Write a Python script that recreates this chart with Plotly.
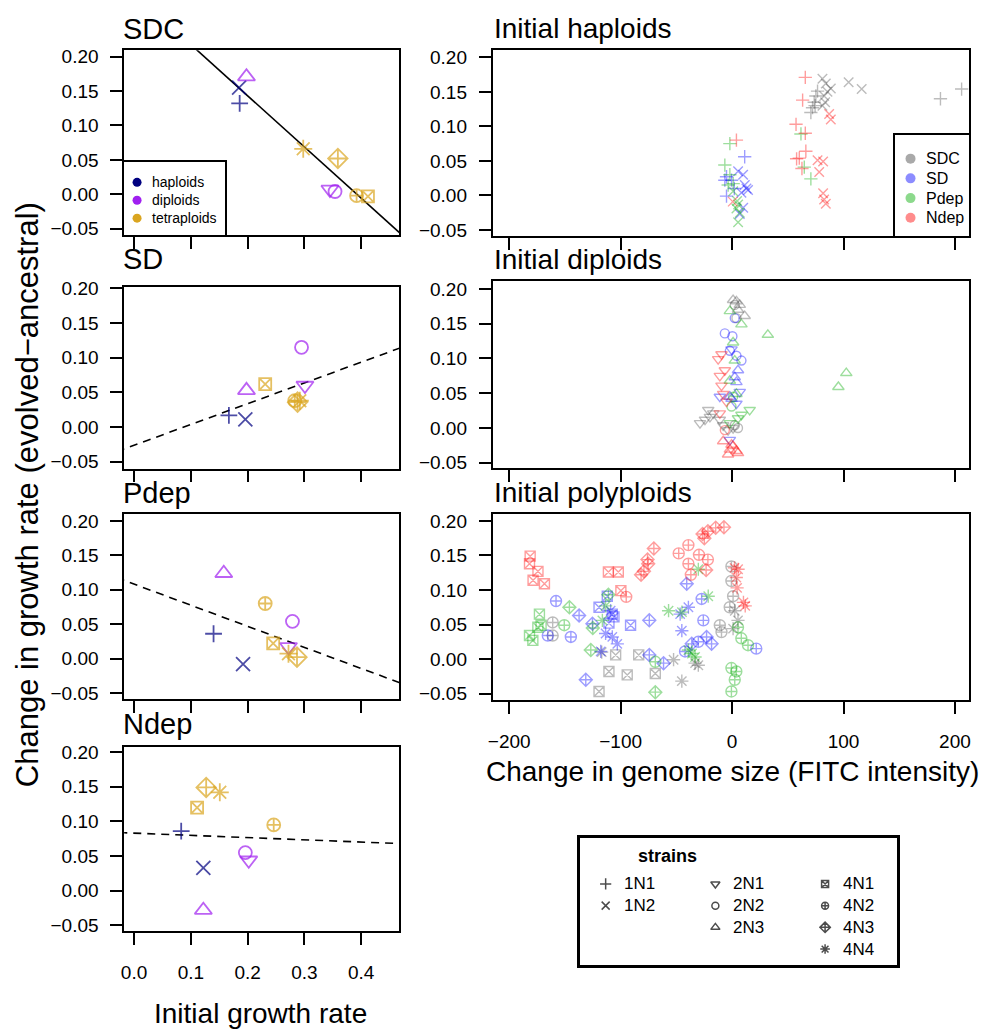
import plotly.graph_objects as go

W, H = 984, 1031
FONT = "Liberation Sans, Arial, Helvetica, sans-serif"

# ---------------------------------------------------------------- data
strains = ["1N1", "1N2", "2N1", "2N2", "2N3", "4N1", "4N2", "4N3", "4N4"]
strain_ploidy = ["haploids", "haploids", "diploids", "diploids", "diploids",
                 "tetraploids", "tetraploids", "tetraploids", "tetraploids"]
ploidy_labels = ["haploids", "diploids", "tetraploids"]
treatments = ["SDC", "SD", "Pdep", "Ndep"]

# left column: initial growth rate vs change in growth rate (order of `strains`)
init_SDC = [0.186, 0.185, 0.345, 0.354, 0.198, 0.412, 0.392, 0.359, 0.298]
chg_SDC = [0.132, 0.155, 0.007, 0.004, 0.171, -0.003, -0.002, 0.052, 0.066]
init_SD = [0.167, 0.196, 0.301, 0.295, 0.198, 0.231, 0.283, 0.288, 0.292]
chg_SD = [0.017, 0.011, 0.060, 0.115, 0.053, 0.062, 0.038, 0.036, 0.038]
init_Pdep = [0.140, 0.192, 0.272, 0.279, 0.158, 0.245, 0.231, 0.287, 0.272]
chg_Pdep = [0.036, -0.008, 0.017, 0.054, 0.124, 0.022, 0.080, 0.002, 0.007]
init_Ndep = [0.083, 0.122, 0.202, 0.196, 0.122, 0.111, 0.246, 0.127, 0.151]
chg_Ndep = [0.086, 0.033, 0.044, 0.055, -0.028, 0.120, 0.095, 0.149, 0.142]

# regression lines of each left panel (intercept, slope)
fit_intercept = [0.292, -0.0262, 0.1081, 0.0831]
fit_slope = [-0.744, 0.2995, -0.3063, -0.0322]

# right column: (strain, change in genome size, change in growth rate)
hap_SDC = [("1N2", 104.6, 0.164), ("1N2", 116.3, 0.154), ("1N2", 81.1, 0.169), ("1N2", 84.1, 0.162),
           ("1N2", 88.6, 0.155), ("1N2", 85.6, 0.150), ("1N2", 82.6, 0.144), ("1N2", 83.5, 0.135),
           ("1N2", 81.1, 0.130), ("1N1", 187.0, 0.140), ("1N1", 206.0, 0.154), ("1N1", 75.2, 0.144),
           ("1N1", 73.7, 0.135), ("1N1", 72.2, 0.127), ("1N1", 70.7, 0.120), ("1N1", 76.7, 0.151),
           ("1N1", 74.5, 0.130)]
hap_SD = [("1N1", 11.3, 0.056), ("1N1", -5.0, 0.027), ("1N1", -6.5, 0.022), ("1N1", -5.0, -0.001),
          ("1N1", -0.5, 0.022), ("1N1", 2.0, 0.010), ("1N2", 9.9, 0.030), ("1N2", 12.9, 0.010),
          ("1N2", 11.4, 0.015), ("1N2", 6.9, -0.027), ("1N2", 8.4, 0.004), ("1N2", 5.4, 0.035),
          ("1N2", 14.3, 0.008), ("1N2", 10.0, -0.018)]
hap_Pdep = [("1N1", -2.0, 0.075), ("1N1", 61.8, 0.089), ("1N1", 64.8, 0.041), ("1N1", 70.7, 0.024),
            ("1N1", -6.5, 0.044), ("1N1", -2.0, 0.030), ("1N1", -3.5, 0.015), ("1N1", 1.0, 0.017),
            ("1N2", 5.4, -0.013), ("1N2", 6.9, -0.025), ("1N2", 5.4, -0.039), ("1N2", 3.9, -0.019),
            ("1N2", 1.0, 0.006), ("1N2", 4.5, -0.008)]
hap_Ndep = [("1N1", 65.7, 0.171), ("1N1", 63.3, 0.138), ("1N1", 57.4, 0.103), ("1N1", 65.7, 0.090),
            ("1N1", 60.3, 0.054), ("1N1", 66.2, 0.064), ("1N1", 57.9, 0.053), ("1N1", 62.7, 0.039),
            ("1N1", 3.9, 0.080), ("1N2", 87.1, 0.118), ("1N2", 88.6, 0.110), ("1N2", 76.7, 0.051),
            ("1N2", 81.7, 0.049), ("1N2", 78.2, 0.034), ("1N2", 81.7, 0.003), ("1N2", 82.6, -0.006),
            ("1N2", 84.1, -0.012), ("1N2", 0.6, -0.009)]

dip_SDC = [("2N3", 0.9, 0.184), ("2N3", 3.9, 0.182), ("2N3", 6.9, 0.177), ("2N3", 11.3, 0.161),
           ("2N3", 5.3, 0.170), ("2N2", 2.4, 0.177), ("2N2", 3.9, 0.158), ("2N2", 5.3, 0.000),
           ("2N2", 2.4, 0.004), ("2N1", -28.8, 0.007), ("2N1", -24.3, 0.012), ("2N1", -19.9, 0.016),
           ("2N1", -16.9, 0.021), ("2N1", -21.4, 0.026), ("2N1", -11.0, 0.012), ("2N1", -8.0, 0.004),
           ("2N1", -3.6, -0.003), ("2N1", 0.9, 0.000)]
dip_SD = [("2N2", -6.5, 0.136), ("2N2", 0.3, 0.132), ("2N2", 3.9, 0.104), ("2N2", 8.4, 0.097),
          ("2N2", -2.0, 0.111), ("2N2", 2.4, 0.158), ("2N3", -2.0, 0.045), ("2N3", -0.5, 0.042),
          ("2N3", 3.9, 0.066), ("2N3", 2.4, 0.073), ("2N3", 5.3, 0.083), ("2N1", -0.5, 0.113),
          ("2N1", -11.0, 0.045), ("2N1", -2.0, -0.017), ("2N1", 3.9, 0.035), ("2N1", 6.9, 0.052)]
dip_Pdep = [("2N3", -2.0, 0.168), ("2N3", 8.4, 0.149), ("2N3", 0.9, 0.123), ("2N3", 2.4, 0.097),
            ("2N3", 32.1, 0.134), ("2N3", 102.5, 0.079), ("2N3", 95.4, 0.059), ("2N3", 3.9, 0.049),
            ("2N3", -2.0, 0.068), ("2N1", 15.8, 0.026), ("2N1", 8.4, 0.019), ("2N1", 5.3, 0.014),
            ("2N1", -2.0, 0.007), ("2N2", -0.5, 0.031), ("2N2", 0.9, 0.045)]
dip_Ndep = [("2N1", -12.5, 0.099), ("2N1", -9.5, 0.106), ("2N1", -11.0, 0.075), ("2N1", -9.5, 0.061),
            ("2N1", -6.5, 0.083), ("2N1", -8.0, 0.049), ("2N1", -5.0, 0.038), ("2N1", -11.0, 0.021),
            ("2N3", 0.9, -0.026), ("2N3", -2.0, -0.031), ("2N3", 3.9, -0.033), ("2N3", -3.6, -0.038),
            ("2N3", 5.3, -0.036), ("2N3", -0.5, -0.024), ("2N3", -8.0, -0.019), ("2N2", -6.5, -0.003)]

poly_SDC = [("4N1", -104.5, 0.006), ("4N1", -83.8, 0.006), ("4N1", -110.5, -0.018), ("4N1", -94.1, -0.023),
            ("4N1", -68.9, -0.021), ("4N1", -119.4, -0.047), ("4N2", -161.0, 0.053), ("4N2", -161.0, 0.034),
            ("4N2", -11.0, 0.049), ("4N2", -9.5, 0.039), ("4N2", -0.6, 0.134), ("4N2", -0.6, 0.113),
            ("4N2", 0.9, 0.091), ("4N2", -2.1, 0.075), ("4N4", -52.5, -0.001), ("4N4", -45.1, -0.032),
            ("4N4", -33.2, -0.006), ("4N4", -30.3, -0.009), ("4N4", 2.4, 0.070), ("4N4", 5.3, 0.056),
            ("4N4", 0.9, 0.044), ("4N4", -117.0, 0.010)]
poly_SD = [("4N1", -112.0, 0.091), ("4N1", -119.4, 0.075), ("4N1", -107.5, 0.065), ("4N1", -106.0, 0.061),
           ("4N1", -91.1, 0.049), ("4N1", -110.5, 0.052), ("4N2", -158.0, 0.084), ("4N2", -165.4, 0.034),
           ("4N2", -144.7, 0.032), ("4N2", -27.3, 0.087), ("4N2", -25.8, 0.056), ("4N2", 21.7, 0.015),
           ("4N2", -42.2, 0.011), ("4N2", -30.3, 0.025), ("4N3", -137.3, 0.063), ("4N3", -125.3, 0.051),
           ("4N3", -131.3, -0.030), ("4N3", -74.3, 0.056), ("4N3", -74.3, 0.006), ("4N3", -61.5, -0.006),
           ("4N3", -40.7, 0.109), ("4N3", -18.4, 0.022), ("4N3", -22.9, 0.032), ("4N3", -36.2, 0.022),
           ("4N4", -107.5, 0.032), ("4N4", -103.0, 0.022), ("4N4", -117.9, 0.011), ("4N4", -39.2, 0.075),
           ("4N4", -46.6, 0.065), ("4N4", -45.1, 0.041), ("4N4", -113.5, 0.037), ("4N4", -109.0, 0.070)]
poly_Pdep = [("4N1", -172.9, 0.065), ("4N1", -174.3, 0.046), ("4N1", -181.8, 0.034), ("4N1", -178.8, 0.027),
             ("4N1", -171.4, 0.049), ("4N2", -150.6, 0.049), ("4N2", -0.6, -0.013), ("4N2", 3.8, -0.018),
             ("4N2", 2.4, -0.030), ("4N2", -0.6, -0.047), ("4N2", 8.3, 0.030), ("4N2", 14.3, 0.020),
             ("4N2", 5.3, 0.046), ("4N2", -68.9, -0.004), ("4N3", -146.0, 0.075), ("4N3", -126.8, 0.013),
             ("4N3", -68.9, -0.048), ("4N3", -111.0, 0.093), ("4N3", -125.0, 0.045), ("4N4", -57.0, 0.070),
             ("4N4", -30.3, 0.130), ("4N4", -21.4, 0.091), ("4N4", -45.0, 0.068), ("4N4", -33.2, 0.003),
             ("4N4", -39.2, 0.013), ("4N4", -113.5, 0.077), ("4N4", -116.4, 0.056), ("4N4", -36.0, 0.008)]
poly_Ndep = [("4N1", -181.2, 0.149), ("4N1", -181.8, 0.138), ("4N1", -174.2, 0.127), ("4N1", -178.6, 0.114),
             ("4N1", -168.4, 0.109), ("4N1", -111.0, 0.126), ("4N1", -102.1, 0.126), ("4N1", -99.8, 0.099),
             ("4N2", -95.0, 0.090), ("4N2", -47.9, 0.153), ("4N2", -39.2, 0.165), ("4N2", -39.2, 0.138),
             ("4N2", -29.7, 0.151), ("4N2", -21.7, 0.144), ("4N2", -37.0, 0.122), ("4N3", -26.5, 0.181),
             ("4N3", -21.7, 0.185), ("4N3", -14.7, 0.190), ("4N3", -7.3, 0.191), ("4N3", -24.9, 0.175),
             ("4N3", -79.1, 0.127), ("4N3", -75.3, 0.138), ("4N3", -70.2, 0.160), ("4N3", -75.9, 0.144),
             ("4N3", -81.7, 0.122), ("4N3", -23.3, 0.129), ("4N4", 2.2, 0.132), ("4N4", 5.4, 0.130),
             ("4N4", 4.5, 0.103), ("4N4", 10.2, 0.082), ("4N4", 11.8, 0.077), ("4N4", 3.8, 0.118)]

right_titles = ["Initial haploids", "Initial diploids", "Initial polyploids"]
right_sets = [[hap_SDC, hap_SD, hap_Pdep, hap_Ndep],
              [dip_SDC, dip_SD, dip_Pdep, dip_Ndep],
              [poly_SDC, poly_SD, poly_Pdep, poly_Ndep]]

# ---------------------------------------------------------------- styles
symbol_of = {"1N1": "cross-thin-open", "1N2": "x-thin-open", "2N1": "triangle-down-open",
             "2N2": "circle-open", "2N3": "triangle-up-open", "4N1": "square-x-open",
             "4N2": "circle-cross-open", "4N3": "diamond-cross-open", "4N4": "asterisk-open"}
size_left = {"1N1": 12, "1N2": 14, "2N1": 15, "2N2": 13, "2N3": 15,
             "4N1": 12, "4N2": 13, "4N3": 15, "4N4": 15}
size_right = {"1N1": 9.5, "1N2": 9.5, "2N1": 10, "2N2": 9, "2N3": 10,
              "4N1": 10, "4N2": 11, "4N3": 10, "4N4": 11}
size_key = {"1N1": 8, "1N2": 8, "2N1": 8, "2N2": 7, "2N3": 8,
            "4N1": 7, "4N2": 7, "4N3": 8, "4N4": 8}
ploidy_color = {"haploids": "#000080", "diploids": "#A020F0", "tetraploids": "#DAA520"}
treat_color = {"SDC": "rgba(64,64,64,0.5)", "SD": "rgba(0,0,255,0.55)",
               "Pdep": "rgba(0,170,0,0.55)", "Ndep": "rgba(255,0,0,0.55)"}
key_treat_color = {"SDC": "rgba(64,64,64,0.45)", "SD": "rgba(0,0,255,0.45)",
                   "Pdep": "rgba(0,170,0,0.45)", "Ndep": "rgba(255,0,0,0.45)"}
fit_dash = ["solid", "8px,6px", "8px,6px", "8px,6px"]


def dom_x(l, r):
    return [l / W, r / W]


def dom_y(t, b):
    return [1 - b / H, 1 - t / H]


LEFT = (120, 397)
RIGHT = (491, 971)
left_rows = [(41.7, 229.3), (282.3, 466), (511.7, 700), (747.7, 935)]
right_rows = [(41.7, 230), (276, 465.7), (511.7, 700.7)]
left_yr = [[-0.0595, 0.2095], [-0.060, 0.2014], [-0.0596, 0.2105], [-0.0585, 0.208]]
right_yr = [[-0.0586, 0.2104], [-0.058, 0.211], [-0.0596, 0.2104]]
left_xr = [-0.0175, 0.467]
right_xr = [-215, 212.7]
ytv = [-0.05, 0, 0.05, 0.10, 0.15, 0.20]

fig = go.Figure()
layout = {}


def panel_axes(n, xd, yd, xr, yr, xtv, xfmt, xlab):
    common = dict(showline=True, mirror=True, linecolor="black", linewidth=1.5,
                  ticks="outside", ticklen=12, tickwidth=1.5, tickcolor="black",
                  showgrid=False, zeroline=False, fixedrange=True,
                  tickfont=dict(size=19, color="black", family=FONT))
    layout[f"xaxis{n}"] = dict(domain=xd, range=xr, tickvals=xtv, tickformat=xfmt,
                               showticklabels=xlab, anchor=f"y{n}", ticklabelstandoff=11, **common)
    layout[f"yaxis{n}"] = dict(domain=yd, range=yr, tickvals=ytv, tickformat=".2f",
                               anchor=f"x{n}", ticklabelstandoff=8, **common)


# left panels
left_init = [init_SDC, init_SD, init_Pdep, init_Ndep]
left_chg = [chg_SDC, chg_SD, chg_Pdep, chg_Ndep]
for i, t in enumerate(treatments):
    n = i + 1
    panel_axes(n, dom_x(*LEFT), dom_y(*left_rows[i]), left_xr, left_yr[i],
               [0, 0.1, 0.2, 0.3, 0.4], ".1f", i == 3)
    xs = [-0.1, 0.6]
    fig.add_trace(go.Scatter(x=xs, y=[fit_intercept[i] + fit_slope[i] * x for x in xs],
                             mode="lines", line=dict(color="black", width=1.6, dash=fit_dash[i]),
                             xaxis=f"x{n}", yaxis=f"y{n}", hoverinfo="skip"))
    fig.add_trace(go.Scatter(x=left_init[i], y=left_chg[i], mode="markers",
                             marker=dict(symbol=[symbol_of[s] for s in strains],
                                         size=[size_left[s] for s in strains],
                                         color=[ploidy_color[p] for p in strain_ploidy],
                                         line=dict(width=1.8)),
                             text=strains, xaxis=f"x{n}", yaxis=f"y{n}"))

# right panels
for k in range(3):
    n = 5 + k
    panel_axes(n, dom_x(*RIGHT), dom_y(*right_rows[k]), right_xr, right_yr[k],
               [-200, -100, 0, 100, 200], "d", k == 2)
    for t, rec in zip(treatments, right_sets[k]):
        fig.add_trace(go.Scatter(x=[r[1] for r in rec], y=[r[2] for r in rec], mode="markers",
                                 marker=dict(symbol=[symbol_of[r[0]] for r in rec],
                                             size=[size_right[r[0]] for r in rec],
                                             color=treat_color[t], line=dict(width=1.4)),
                                 text=[r[0] for r in rec], name=t,
                                 xaxis=f"x{n}", yaxis=f"y{n}"))

# key axes (boxes)
key_common = dict(showline=True, mirror=True, linecolor="black", showgrid=False, zeroline=False,
                  showticklabels=False, ticks="", fixedrange=True)
layout["xaxis8"] = dict(domain=dom_x(120, 221.7), range=[-13, 88.7], anchor="y8", linewidth=1.5, **key_common)
layout["yaxis8"] = dict(domain=dom_y(155, 229.3), range=[2.95, -1.14], anchor="x8", linewidth=1.5, **key_common)
layout["xaxis9"] = dict(domain=dom_x(896, 971), range=[-16, 59], anchor="y9", linewidth=1.5, **key_common)
layout["yaxis9"] = dict(domain=dom_y(128, 230), range=[3.915, -1.185], anchor="x9", linewidth=1.5, **key_common)
layout["xaxis10"] = dict(domain=dom_x(579, 898), range=[-0.235, 2.652], anchor="y10", linewidth=2.5, **key_common)
layout["yaxis10"] = dict(domain=dom_y(840, 969), range=[3.727, -2.136], anchor="x10", linewidth=2.5, **key_common)

annotations = []
fig.add_trace(go.Scatter(x=[0] * 3, y=list(range(3)), mode="markers",
                         marker=dict(symbol="circle", size=9, color=[ploidy_color[p] for p in ploidy_labels]),
                         xaxis="x8", yaxis="y8", hoverinfo="skip"))
for r, p in enumerate(ploidy_labels):
    annotations.append(dict(xref="x8", yref="y8", x=13, y=r, text=p, showarrow=False,
                            xanchor="left", yanchor="middle", font=dict(size=14, family=FONT, color="black")))
fig.add_trace(go.Scatter(x=[0] * 4, y=list(range(4)), mode="markers",
                         marker=dict(symbol="circle", size=10, color=[key_treat_color[t] for t in treatments]),
                         xaxis="x9", yaxis="y9", hoverinfo="skip"))
for r, t in enumerate(treatments):
    annotations.append(dict(xref="x9", yref="y9", x=13.5, y=r, text=t, showarrow=False,
                            xanchor="left", yanchor="middle", font=dict(size=16, family=FONT, color="black")))

key_col = [ploidy_labels.index(p) for p in strain_ploidy]
key_row = [strain_ploidy[:i].count(strain_ploidy[i]) for i in range(len(strains))]
fig.add_trace(go.Scatter(x=key_col, y=key_row, mode="markers",
                         marker=dict(symbol=[symbol_of[s] for s in strains],
                                     size=[size_key[s] for s in strains], color="black",
                                     line=dict(width=1.5)),
                         xaxis="x10", yaxis="y10", hoverinfo="skip"))
for s, c, r in zip(strains, key_col, key_row):
    annotations.append(dict(xref="x10", yref="y10", x=c + 0.145, y=r, text=s, showarrow=False,
                            xanchor="left", yanchor="middle", font=dict(size=17, family=FONT, color="black")))
annotations.append(dict(xref="paper", yref="paper", x=636 / W, y=1 - 858.8 / H, text="<b>strains</b>",
                        showarrow=False, xanchor="left", yanchor="middle",
                        font=dict(size=18, family=FONT, color="black")))

# panel titles
title_pos = [("SDC", 117, 39, 29), ("SD", 117, 272, 29), ("Pdep", 117, 509, 29), ("Ndep", 117, 743, 29),
             (right_titles[0], 490, 38, 28), (right_titles[1], 490, 272, 28), (right_titles[2], 490, 508, 28)]
for txt, xp, yp, fs in title_pos:
    annotations.append(dict(xref="paper", yref="paper", x=xp / W, y=1 - yp / H, text=txt, showarrow=False,
                            xanchor="left", yanchor="bottom", font=dict(size=fs, family=FONT, color="black")))

annotations.append(dict(xref="paper", yref="paper", x=257.5 / W, y=1 - 1018 / H, text="Initial growth rate",
                        showarrow=False, xanchor="center", yanchor="middle",
                        font=dict(size=28, family=FONT, color="black")))
annotations.append(dict(xref="paper", yref="paper", x=732.5 / W, y=1 - 773 / H,
                        text="Change in genome size (FITC intensity)", showarrow=False,
                        xanchor="center", yanchor="middle", font=dict(size=28, family=FONT, color="black")))
annotations.append(dict(xref="paper", yref="paper", x=22 / W, y=1 - 492 / H,
                        text="Change in growth rate (evolved\u2212ancestral)", showarrow=False, textangle=-90,
                        xanchor="center", yanchor="middle", font=dict(size=31, family=FONT, color="black")))

fig.update_layout(width=W, height=H, margin=dict(l=0, r=0, t=0, b=0), showlegend=False,
                  paper_bgcolor="white", plot_bgcolor="white",
                  font=dict(family=FONT, color="black"), annotations=annotations, **layout)

fig.write_html("out.html", config={"displayModeBar": False},
               post_script="document.body.style.margin='0';")
